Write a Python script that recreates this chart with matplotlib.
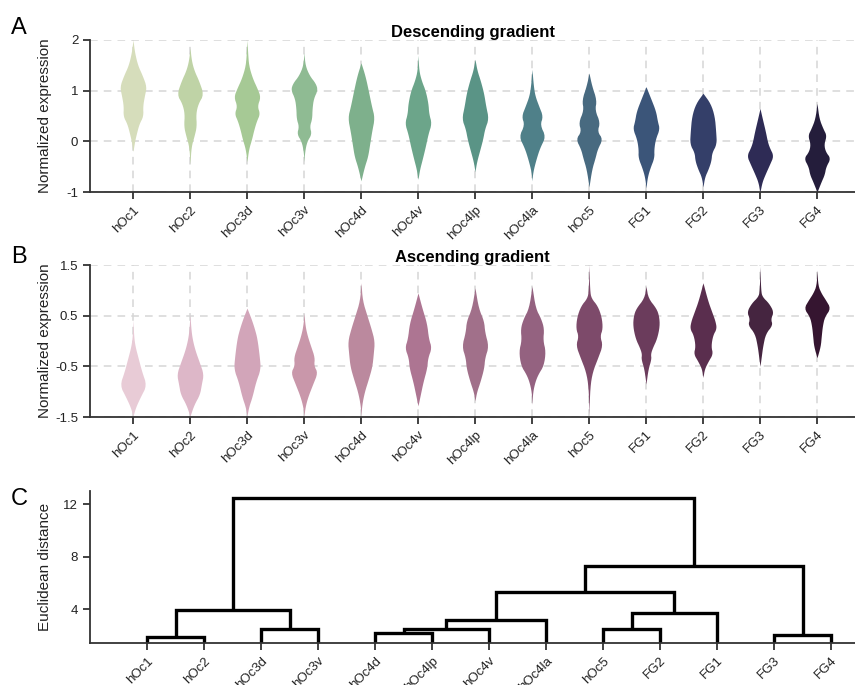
import numpy as np
import matplotlib
matplotlib.use("Agg")
import matplotlib.pyplot as plt

plt.rcParams['font.family'] = ['Liberation Sans', 'DejaVu Sans']

regioes = ['hOc1', 'hOc2', 'hOc3d', 'hOc3v', 'hOc4d', 'hOc4v', 'hOc4lp',
           'hOc4la', 'hOc5', 'FG1', 'FG2', 'FG3', 'FG4']

# perfis dos violinos: (valores, largura relativa)
desc_perfis = [
    ([2.0, 1.75, 1.5, 1.3, 1.08, 0.9, 0.7, 0.5, 0.35, 0.15, 0.0, -0.2],
     [0, 0.12, 0.35, 0.7, 1.0, 0.85, 0.72, 0.75, 0.45, 0.25, 0.12, 0]),
    ([1.85, 1.6, 1.4, 1.2, 0.93, 0.75, 0.55, 0.3, 0.1, -0.1, -0.45],
     [0, 0.1, 0.3, 0.65, 1.0, 0.6, 0.42, 0.48, 0.3, 0.08, 0]),
    ([2.0, 1.75, 1.5, 1.25, 1.05, 0.88, 0.7, 0.55, 0.4, 0.22, 0.05, -0.15, -0.4],
     [0, 0.05, 0.12, 0.4, 0.75, 1.0, 0.75, 0.95, 0.7, 0.5, 0.35, 0.12, 0]),
    ([1.75, 1.5, 1.3, 1.15, 1.02, 0.85, 0.65, 0.45, 0.3, 0.15, 0.0, -0.2, -0.4],
     [0, 0.08, 0.4, 0.85, 1.0, 0.7, 0.6, 0.58, 0.4, 0.55, 0.2, 0.05, 0]),
    ([1.55, 1.3, 1.0, 0.7, 0.47, 0.2, -0.05, -0.3, -0.5, -0.78],
     [0, 0.3, 0.55, 0.78, 1.0, 0.8, 0.65, 0.5, 0.25, 0]),
    ([1.7, 1.4, 1.2, 1.0, 0.75, 0.55, 0.36, 0.15, -0.1, -0.35, -0.55, -0.75],
     [0, 0.06, 0.25, 0.55, 0.75, 0.8, 1.0, 0.75, 0.55, 0.32, 0.12, 0]),
    ([1.62, 1.4, 1.2, 0.95, 0.7, 0.45, 0.25, 0.05, -0.15, -0.4, -0.6],
     [0, 0.15, 0.4, 0.65, 0.8, 1.0, 0.72, 0.58, 0.38, 0.12, 0]),
    ([1.42, 1.1, 0.9, 0.7, 0.5, 0.33, 0.1, -0.12, -0.35, -0.6, -0.78],
     [0, 0.1, 0.22, 0.5, 0.8, 0.58, 1.0, 0.58, 0.3, 0.06, 0]),
    ([1.35, 1.1, 0.82, 0.62, 0.38, 0.2, 0.05, -0.15, -0.33, -0.55, -0.9],
     [0, 0.2, 0.55, 0.42, 0.8, 0.6, 1.0, 0.62, 0.45, 0.2, 0]),
    ([1.08, 0.85, 0.6, 0.4, 0.25, 0.05, -0.15, -0.32, -0.52, -0.7, -0.92],
     [0, 0.35, 0.72, 0.85, 1.0, 0.7, 0.58, 0.6, 0.3, 0.1, 0]),
    ([0.95, 0.75, 0.5, 0.2, -0.05, -0.22, -0.38, -0.55, -0.7, -0.9],
     [0, 0.55, 0.85, 0.95, 1.0, 0.65, 0.6, 0.38, 0.12, 0]),
    ([0.65, 0.42, 0.2, 0.0, -0.12, -0.28, -0.45, -0.65, -0.8, -1.0],
     [0, 0.2, 0.4, 0.55, 0.7, 1.0, 0.72, 0.38, 0.15, 0]),
    ([0.75, 0.45, 0.25, 0.12, -0.05, -0.2, -0.33, -0.5, -0.65, -0.8, -1.0],
     [0, 0.15, 0.45, 0.7, 0.5, 0.62, 1.0, 0.65, 0.55, 0.3, 0]),
]

asc_perfis = [
    ([0.42, 0.1, -0.1, -0.35, -0.6, -0.87, -1.1, -1.3, -1.48],
     [0, 0.05, 0.15, 0.4, 0.65, 1.0, 0.55, 0.2, 0]),
    ([0.52, 0.2, 0.0, -0.2, -0.42, -0.65, -0.85, -1.05, -1.25, -1.48],
     [0, 0.08, 0.2, 0.4, 0.7, 1.0, 0.85, 0.72, 0.3, 0]),
    ([0.65, 0.45, 0.25, 0.05, -0.3, -0.55, -0.8, -1.1, -1.3, -1.48],
     [0, 0.3, 0.55, 0.75, 0.92, 1.0, 0.65, 0.38, 0.12, 0]),
    ([0.55, 0.3, 0.1, -0.1, -0.32, -0.48, -0.62, -0.85, -1.1, -1.3, -1.48],
     [0, 0.08, 0.25, 0.5, 0.78, 0.72, 1.0, 0.65, 0.28, 0.08, 0]),
    ([1.15, 0.8, 0.5, 0.25, 0.0, -0.25, -0.5, -0.75, -1.0, -1.25, -1.48],
     [0, 0.1, 0.45, 0.75, 1.0, 0.92, 0.82, 0.55, 0.25, 0.06, 0]),
    ([0.95, 0.65, 0.35, 0.05, -0.13, -0.33, -0.53, -0.8, -1.05, -1.28],
     [0, 0.3, 0.65, 0.78, 1.0, 0.72, 0.66, 0.38, 0.18, 0]),
    ([1.05, 0.65, 0.4, 0.18, -0.1, -0.33, -0.53, -0.8, -1.0, -1.18],
     [0, 0.25, 0.65, 0.72, 1.0, 0.72, 0.66, 0.38, 0.12, 0]),
    ([1.08, 0.65, 0.45, 0.25, 0.02, -0.2, -0.48, -0.65, -0.8, -1.0, -1.25],
     [0, 0.25, 0.65, 0.88, 0.8, 1.0, 0.85, 0.45, 0.22, 0.05, 0]),
    ([1.5, 1.0, 0.85, 0.7, 0.48, 0.25, 0.1, -0.08, -0.33, -0.6, -0.9, -1.45],
     [0, 0.05, 0.15, 0.62, 0.92, 1.0, 0.8, 1.0, 0.65, 0.25, 0.06, 0]),
    ([1.08, 0.85, 0.65, 0.5, 0.3, 0.05, -0.13, -0.25, -0.35, -0.55, -0.85],
     [0, 0.15, 0.75, 0.95, 1.0, 0.8, 0.48, 0.33, 0.38, 0.15, 0]),
    ([1.15, 0.8, 0.58, 0.4, 0.25, 0.12, -0.1, -0.25, -0.4, -0.55, -0.72],
     [0, 0.35, 0.65, 0.9, 1.0, 0.72, 0.58, 0.72, 0.38, 0.1, 0]),
    ([1.47, 1.0, 0.88, 0.75, 0.58, 0.44, 0.32, 0.15, -0.1, -0.3, -0.5],
     [0, 0.05, 0.15, 0.65, 1.0, 0.78, 0.92, 0.4, 0.2, 0.1, 0]),
    ([1.4, 1.1, 0.95, 0.82, 0.65, 0.48, 0.3, 0.1, -0.1, -0.33],
     [0, 0.06, 0.3, 0.62, 1.0, 0.55, 0.4, 0.32, 0.25, 0]),
]

cores_desc = ['#d6ddbb', '#bfd3a6', '#a6c995', '#8fbb93', '#7eb08c', '#6ca58a',
              '#5a9486', '#4f8089', '#486a80', '#3b5579', '#343f69', '#2e2b55',
              '#241d3b']
cores_asc = ['#e8cbd6', '#ddb7c8', '#d2a5b9', '#c997aa', '#bb899e', '#ad7592',
             '#a1708a', '#946280', '#7d4a6a', '#6b3c5c', '#5a2e4e', '#452540',
             '#351530']

# dendrograma: folhas e fusoes (a, b, altura), estilo scipy
folhas = ['hOc1', 'hOc2', 'hOc3d', 'hOc3v', 'hOc4d', 'hOc4lp', 'hOc4v',
          'hOc4la', 'hOc5', 'FG2', 'FG1', 'FG3', 'FG4']
fusoes = [
    (0, 1, 1.9),
    (2, 3, 2.45),
    (13, 14, 3.95),
    (4, 5, 2.15),
    (16, 6, 2.5),
    (17, 7, 3.15),
    (8, 9, 2.5),
    (19, 10, 3.7),
    (18, 20, 5.3),
    (11, 12, 2.05),
    (21, 22, 7.3),
    (15, 23, 12.5),
]

CINZA = '#333333'
fig = plt.figure(figsize=(8.55, 6.85), dpi=100)


def eixo(top_px, bottom_px):
    return fig.add_axes([90 / 855, 1 - bottom_px / 685, 765 / 855,
                         (bottom_px - top_px) / 685])


def estilo(ax):
    for s in ['top', 'right']:
        ax.spines[s].set_visible(False)
    for s in ['left', 'bottom']:
        ax.spines[s].set_color(CINZA)
        ax.spines[s].set_linewidth(1.3)
    ax.tick_params(length=5, width=1.3, color=CINZA, labelsize=9.5,
                   labelcolor='#222222')


def suave(v, w, passos=2):
    # corte de cantos (Chaikin) para arredondar o contorno
    p = np.column_stack([v, w])
    for _ in range(passos):
        q = [p[0]]
        for a, b in zip(p[:-1], p[1:]):
            q.append(0.75 * a + 0.25 * b)
            q.append(0.25 * a + 0.75 * b)
        q.append(p[-1])
        p = np.array(q)
    return p[:, 0], p[:, 1]


def violinos(ax, perfis, cores, titulo, yticks):
    estilo(ax)
    ax.set_axisbelow(True)
    ax.grid(True, ls=(0, (5, 4)), color='#d6d6d6', lw=1.1)
    meia = 0.235
    for i, (v, w) in enumerate(perfis):
        vs, ws = suave(v, w)
        ws = ws * meia
        ax.fill_betweenx(vs, i - ws, i + ws, color=cores[i], lw=0)
    ax.set_xticks(range(len(regioes)))
    ax.set_xticklabels(regioes, rotation=45, ha='right', va='top',
                       rotation_mode='anchor', fontsize=9.5)
    ax.set_xlim(-0.754, 12.667)
    ax.set_yticks(yticks)
    ax.set_yticklabels([('%g' % t) for t in yticks])
    ax.set_ylim(yticks[-1], yticks[0])
    ax.set_ylabel('Normalized expression', fontsize=11, color='#222222')
    ax.yaxis.set_label_coords(-0.05, 0.5)
    ax.set_title(titulo, fontsize=12, fontweight='bold', pad=2)


ax1 = eixo(40, 192)
violinos(ax1, desc_perfis, cores_desc, 'Descending gradient', [2, 1, 0, -1])

ax2 = eixo(265, 417)
violinos(ax2, asc_perfis, cores_asc, 'Ascending gradient',
         [1.5, 0.5, -0.5, -1.5])

ax3 = eixo(491, 643)
estilo(ax3)
n = len(folhas)
px = {i: float(i) for i in range(n)}
py = {i: 0.0 for i in range(n)}
for k, (a, b, h) in enumerate(fusoes):
    ax3.plot([px[a], px[a], px[b], px[b]], [py[a], h, h, py[b]],
             color='black', lw=2.4, solid_joinstyle='miter',
             solid_capstyle='butt')
    px[n + k] = (px[a] + px[b]) / 2
    py[n + k] = h
ax3.set_xticks(range(n))
ax3.set_xticklabels(folhas, rotation=45, ha='right', va='top',
                    rotation_mode='anchor', fontsize=9.5)
ax3.set_xlim(-1, 12.42)
ax3.set_ylim(1.41, 13)
ax3.set_yticks([4, 8, 12])
ax3.set_ylabel('Euclidean distance', fontsize=11, color='#222222')
ax3.yaxis.set_label_coords(-0.05, 0.5)

for letra, base in [('A', 34), ('B', 263), ('C', 505)]:
    fig.text(11 / 855, 1 - base / 685, letra, fontsize=17, va='baseline')

fig.savefig('out.png', dpi=100, facecolor='white')
